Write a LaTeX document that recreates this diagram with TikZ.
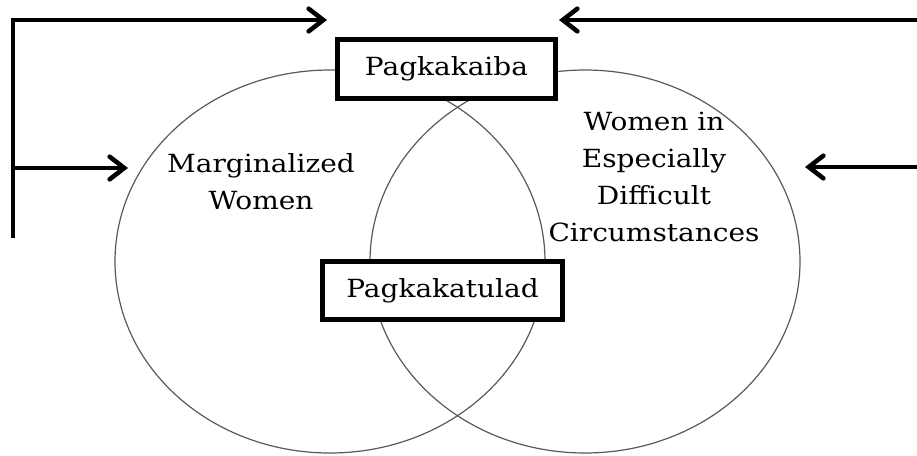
\documentclass[tikz,border=0pt]{standalone}
\usepackage{fontspec}
\setmainfont[FakeStretch=1.12]{DejaVu Serif}
\usetikzlibrary{arrows.meta,shapes.geometric}

\newcommand{\vennfont}{\fontsize{18.75}{27.75}\selectfont}
\tikzset{
  venn/.style={ellipse, draw=black!65, line width=0.9pt, inner sep=0pt,
    minimum width=322.5pt, minimum height=287.25pt},
  labelbox/.style={draw, line width=3.75pt, fill=white, inner sep=0pt, font=\vennfont},
  setlabel/.style={align=center, font=\vennfont},
  flow/.style={line width=3.4pt, -{Straight Barb[length=11pt,width=17pt,line cap=round]}}
}

\begin{document}
\begin{tikzpicture}[x=0.75pt,y=-0.75pt]
  \useasboundingbox (0,0) rectangle (917,455);
  % the two sets
  \node[venn] (lset) at (330,261.5) {};
  \node[venn] (rset) at (585,261.5) {};
  \node[setlabel] (lname) at (261,182) {Marginalized\\Women};
  \node[setlabel] (rname) at (654,176.5) {Women in\\Especially\\Difficult\\Circumstances};
  % boxes
  \node[labelbox, minimum width=163.5pt, minimum height=44pt] (diff) at (446.5,69) {Pagkakaiba};
  \node[labelbox, minimum width=180pt, minimum height=43.5pt] (same) at (442.5,290.5) {Pagkakatulad};
  % arrows
  \coordinate (lbot) at (13,238);
  \coordinate (ltop) at (13,20);
  \coordinate (lmid) at (13,168);
  \coordinate (tipa) at (327,20);
  \coordinate (tipb) at (128,168);
  \coordinate (rtop) at (917,20);
  \coordinate (rmid) at (917,167);
  \coordinate (tipc) at (559,20);
  \coordinate (tipd) at (805,167);
  \draw[flow] (lbot) -- (ltop) -- (tipa);
  \draw[flow] (lmid) -- (tipb);
  \draw[flow] (rtop) -- (tipc);
  \draw[flow] (rmid) -- (tipd);
\end{tikzpicture}
\end{document}
